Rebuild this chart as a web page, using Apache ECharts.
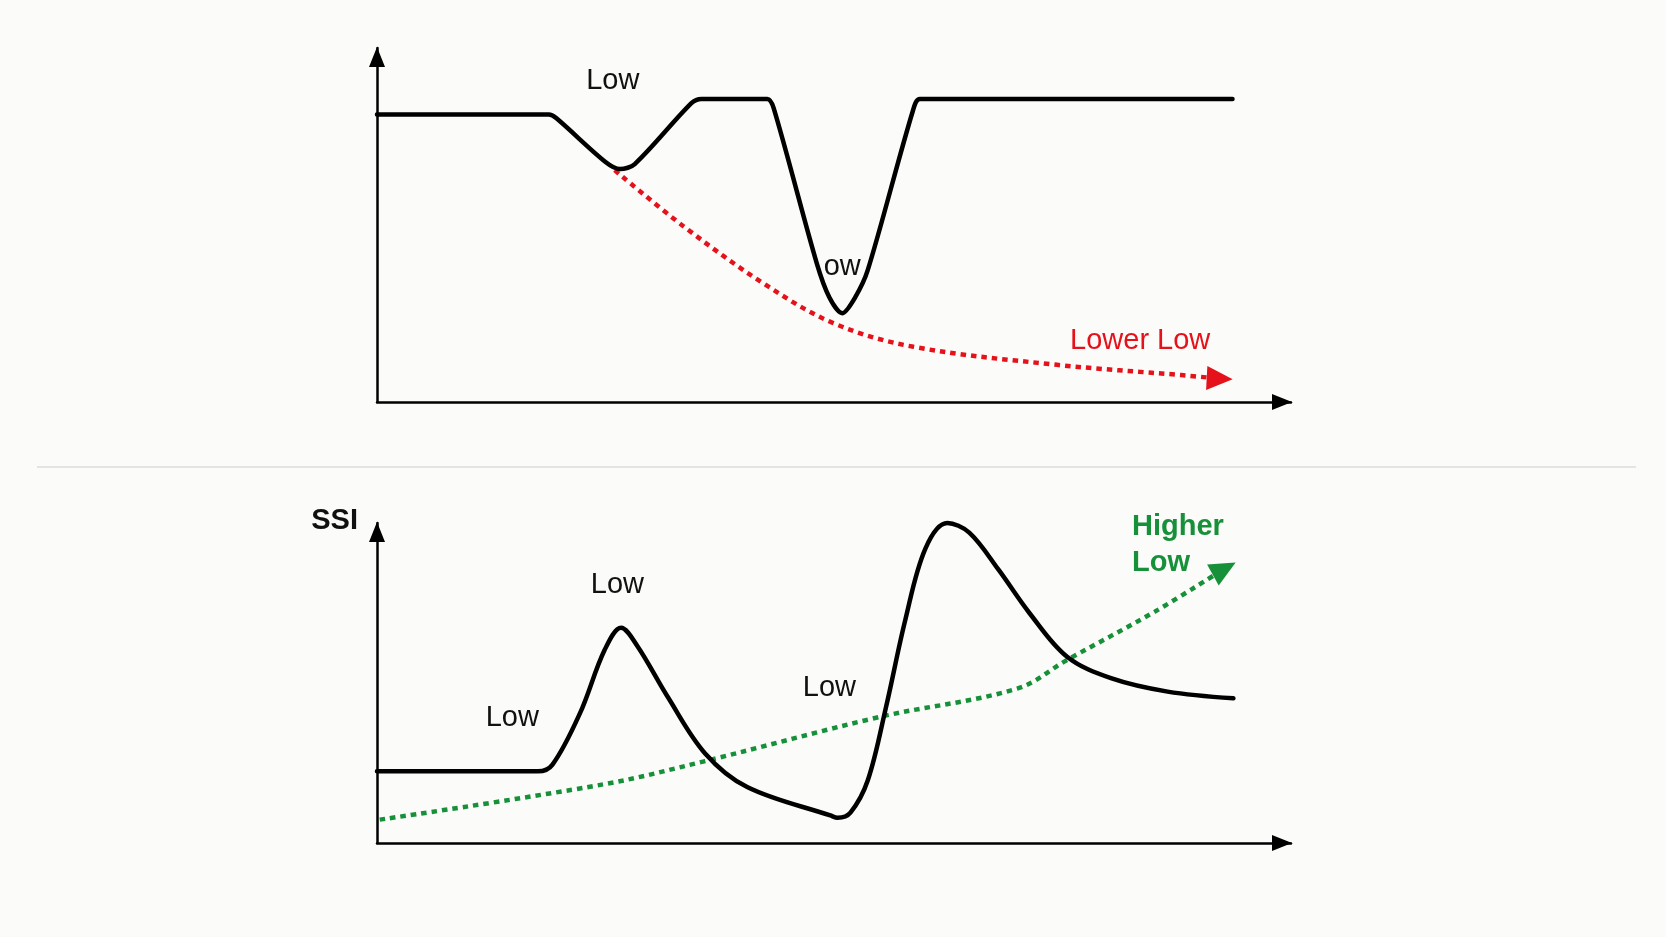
<!DOCTYPE html>
<html>
<head>
<meta charset="utf-8">
<script src="https://cdn.jsdelivr.net/npm/echarts@6/dist/echarts.min.js"></script>
<style>
  html, body { margin: 0; padding: 0; background: #fbfbf9; }
  #chart { width: 1666px; height: 937px; }
</style>
</head>
<body>
<div id="chart"></div>
<script>
// price panel (top): x and y both on a 0-100 scale
const priceLine = [
  [0, 81.2], [18.8, 81.2], [19.6, 80.2], [25.0, 67.8], [26.6, 65.8], [28.2, 67.2],
  [34.4, 84.4], [35.5, 85.6], [42.7, 85.6], [43.4, 83.0], [48.1, 39.3], [49.5, 29.5],
  [50.9, 25.1], [52.3, 29.5], [53.7, 37.3], [58.6, 82.0], [59.4, 85.6], [93.6, 85.6]
];
const lowerLowTrend = [
  [26.0, 65.5], [33.6, 49.5], [42.4, 33.3], [50.0, 22.2], [58.7, 15.6],
  [74.4, 10.5], [88.0, 7.6], [92.2, 6.6]
];
const priceNotes = [
  [25.8, 90.7, "Low"],
  [50.9, 38.0, "ow"]
];
const lowerLowNote = [[83.5, 17.1, "Lower Low"]];

// SSI panel (bottom)
const ssiLine = [
  [0, 22.4], [17.6, 22.4], [19.2, 24.5], [22.2, 40.5], [24.9, 60.3], [26.7, 67.3],
  [28.5, 61.5], [31.8, 45.7], [35.9, 28.0], [40.5, 17.5], [49.6, 8.6], [50.4, 7.9],
  [51.8, 9.5], [53.7, 19.6], [55.7, 42.6], [57.8, 69.7], [60.0, 92.0], [62.4, 100],
  [64.8, 97.0], [68.0, 85.4], [71.4, 71.8], [75.5, 58.2], [80.3, 51.5], [86.5, 47.3],
  [93.7, 45.2]
];
const higherLowTrend = [
  [0.3, 7.3], [24.9, 18.4], [35.9, 25.6], [55.0, 39.4], [70.1, 48.3],
  [75.5, 57.2], [85.1, 72.3], [92.7, 85.7]
];
const ssiNotes = [
  [14.8, 39.0, "Low"],
  [26.3, 80.7, "Low"],
  [49.5, 48.3, "Low"]
];
const higherLowNote = [[82.6, 93.2, "Higher\nLow"]];

const RED = "#e5121b";
const GREEN = "#17903a";
const FONT = "'Liberation Sans', Arial, sans-serif";

const chart = echarts.init(document.getElementById("chart"));

function axisPair(gridIndex, yName) {
  const line = {
    show: true,
    symbol: ["none", "triangle"],
    symbolSize: [16, 20],
    symbolOffset: [0, -9],
    lineStyle: { color: "#000", width: 2.5 }
  };
  return {
    x: {
      type: "value", gridIndex, min: 0, max: 100,
      axisLine: line, axisTick: { show: false }, axisLabel: { show: false },
      splitLine: { show: false }
    },
    y: {
      type: "value", gridIndex, min: 0, max: 100,
      name: yName || "",
      nameLocation: "end",
      nameGap: 2,
      nameTextStyle: {
        fontFamily: FONT, fontWeight: "bold", fontSize: 29, color: "#111",
        align: "right", verticalAlign: "middle", padding: [0, 19, 0, 0]
      },
      axisLine: line, axisTick: { show: false }, axisLabel: { show: false },
      splitLine: { show: false }
    }
  };
}

const priceAxes = axisPair(0);
const ssiAxes = axisPair(1, "SSI");

function arrowEnd(data, rotate, size) {
  return data.map((p, i) => i === data.length - 1
    ? { value: p, symbol: "triangle", symbolSize: size, symbolRotate: rotate }
    : p);
}

function notes(data, color, weight, align) {
  return {
    type: "scatter",
    symbolSize: 0,
    silent: true,
    data: data,
    itemStyle: { opacity: 1 },
    label: {
      show: true,
      position: "inside",
      formatter: (p) => p.value[2],
      fontFamily: FONT,
      fontSize: 29,
      fontWeight: weight,
      color: color,
      opacity: 1,
      align: align,
      lineHeight: 36
    }
  };
}

chart.setOption({
  backgroundColor: "#fbfbf9",
  animation: false,
  grid: [
    { left: 377, right: 375, top: 48, bottom: 535 },
    { left: 377, right: 375, top: 523, bottom: 94 }
  ],
  xAxis: [priceAxes.x, ssiAxes.x],
  yAxis: [priceAxes.y, ssiAxes.y],
  graphic: [{
    type: "line",
    shape: { x1: 37, y1: 467, x2: 1636, y2: 467 },
    style: { stroke: "#dcdcda", lineWidth: 1.5 },
    silent: true
  }],
  series: [
    {
      type: "line", xAxisIndex: 0, yAxisIndex: 0,
      data: arrowEnd(lowerLowTrend, -93, [24, 26]),
      symbol: "none", smooth: 0.35, clip: false,
      lineStyle: { color: RED, width: 4.5, type: [5.5, 5] },
      itemStyle: { color: RED }
    },
    {
      type: "line", xAxisIndex: 0, yAxisIndex: 0,
      data: priceLine, symbol: "none", smooth: 0.3, clip: false,
      lineStyle: { color: "#000", width: 4.5, join: "round", cap: "round" }
    },
    Object.assign(notes(priceNotes, "#111", "normal", "center"), { xAxisIndex: 0, yAxisIndex: 0 }),
    Object.assign(notes(lowerLowNote, RED, "normal", "center"), { xAxisIndex: 0, yAxisIndex: 0 }),
    {
      type: "line", xAxisIndex: 1, yAxisIndex: 1,
      data: arrowEnd(higherLowTrend, -61, [24, 26]),
      symbol: "none", smooth: 0.35, clip: false,
      lineStyle: { color: GREEN, width: 4.5, type: [5.5, 5] },
      itemStyle: { color: GREEN }
    },
    {
      type: "line", xAxisIndex: 1, yAxisIndex: 1,
      data: ssiLine, symbol: "none", smooth: 0.35, clip: false,
      lineStyle: { color: "#000", width: 4.5, join: "round", cap: "round" }
    },
    Object.assign(notes(ssiNotes, "#111", "normal", "center"), { xAxisIndex: 1, yAxisIndex: 1 }),
    Object.assign(notes(higherLowNote, GREEN, "bold", "left"), { xAxisIndex: 1, yAxisIndex: 1 })
  ]
});

window.addEventListener("resize", () => chart.resize());
</script>
</body>
</html>
